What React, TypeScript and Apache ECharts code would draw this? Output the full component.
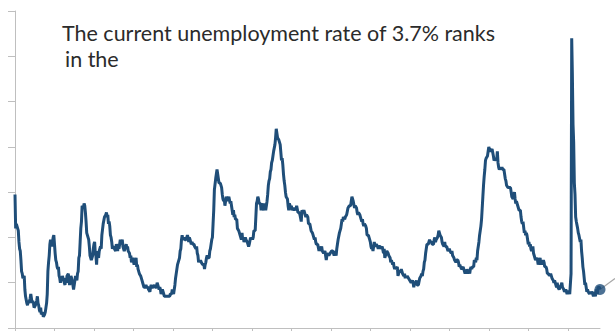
import React, { useEffect, useRef } from "react";
import * as echarts from "echarts";

// US unemployment rate, monthly, Oct 1949 – Nov 2023 (%)
const rates1949 = [7.9, 6.4, 6.6];
const rates1950s = [
  6.5, 6.4, 6.3, 5.8, 5.5, 5.4, 5.0, 4.5, 4.4, 4.2, 4.2, 4.3,
  3.7, 3.4, 3.4, 3.1, 3.0, 3.2, 3.1, 3.1, 3.3, 3.5, 3.5, 3.1,
  3.2, 3.1, 2.9, 2.9, 3.0, 3.0, 3.2, 3.4, 3.1, 3.0, 2.8, 2.7,
  2.9, 2.6, 2.6, 2.7, 2.5, 2.5, 2.6, 2.7, 2.9, 3.1, 3.5, 4.5,
  4.9, 5.2, 5.7, 5.9, 5.9, 5.6, 5.8, 6.0, 6.1, 5.7, 5.3, 5.0,
  4.9, 4.7, 4.6, 4.7, 4.3, 4.2, 4.0, 4.2, 4.1, 4.3, 4.2, 4.2,
  4.0, 3.9, 4.2, 4.0, 4.3, 4.3, 4.4, 4.1, 3.9, 3.9, 4.3, 4.2,
  4.2, 3.9, 3.7, 3.9, 4.1, 4.3, 4.2, 4.1, 4.4, 4.5, 5.1, 5.2,
  5.8, 6.4, 6.7, 7.4, 7.4, 7.3, 7.5, 7.4, 7.1, 6.7, 6.2, 6.2,
  6.0, 5.9, 5.6, 5.2, 5.1, 5.0, 5.1, 5.2, 5.5, 5.7, 5.8, 5.3,
];
const rates1960s = [
  5.2, 4.8, 5.4, 5.2, 5.1, 5.4, 5.5, 5.6, 5.5, 6.1, 6.1, 6.6,
  6.6, 6.9, 6.9, 7.0, 7.1, 6.9, 7.0, 6.6, 6.7, 6.5, 6.1, 6.0,
  5.8, 5.5, 5.6, 5.6, 5.5, 5.5, 5.4, 5.7, 5.6, 5.4, 5.7, 5.5,
  5.7, 5.9, 5.7, 5.7, 5.9, 5.6, 5.6, 5.4, 5.5, 5.5, 5.7, 5.5,
  5.6, 5.4, 5.4, 5.3, 5.1, 5.2, 4.9, 5.0, 5.1, 5.1, 4.8, 5.0,
  4.9, 5.1, 4.7, 4.8, 4.6, 4.6, 4.4, 4.4, 4.3, 4.2, 4.1, 4.0,
  4.0, 3.8, 3.8, 3.8, 3.9, 3.8, 3.8, 3.8, 3.7, 3.7, 3.6, 3.8,
  3.9, 3.8, 3.8, 3.8, 3.8, 3.9, 3.8, 3.8, 3.8, 4.0, 3.9, 3.8,
  3.7, 3.8, 3.7, 3.5, 3.5, 3.7, 3.7, 3.5, 3.4, 3.4, 3.4, 3.4,
  3.4, 3.4, 3.4, 3.4, 3.4, 3.5, 3.5, 3.5, 3.7, 3.7, 3.5, 3.5,
];
const rates1970s = [
  3.9, 4.2, 4.4, 4.6, 4.8, 4.9, 5.0, 5.1, 5.4, 5.5, 5.9, 6.1,
  5.9, 5.9, 6.0, 5.9, 5.9, 5.9, 6.0, 6.1, 6.0, 5.8, 6.0, 6.0,
  5.8, 5.7, 5.8, 5.7, 5.7, 5.7, 5.6, 5.6, 5.5, 5.6, 5.3, 5.2,
  4.9, 5.0, 4.9, 5.0, 4.9, 4.9, 4.8, 4.8, 4.8, 4.6, 4.8, 4.9,
  5.1, 5.2, 5.1, 5.1, 5.1, 5.4, 5.5, 5.5, 5.9, 6.0, 6.6, 7.2,
  8.1, 8.1, 8.6, 8.8, 9.0, 8.8, 8.6, 8.4, 8.4, 8.4, 8.3, 8.2,
  7.9, 7.7, 7.6, 7.7, 7.4, 7.6, 7.8, 7.8, 7.6, 7.7, 7.8, 7.8,
  7.5, 7.6, 7.4, 7.2, 7.0, 7.2, 6.9, 7.0, 6.8, 6.8, 6.8, 6.4,
  6.4, 6.3, 6.3, 6.1, 6.0, 5.9, 6.2, 5.9, 6.0, 5.8, 5.9, 6.0,
  5.9, 5.9, 5.8, 5.8, 5.6, 5.7, 5.7, 6.0, 5.9, 6.0, 5.9, 6.0,
];
const rates1980s = [
  6.3, 6.3, 6.3, 6.9, 7.5, 7.6, 7.8, 7.7, 7.5, 7.5, 7.5, 7.2,
  7.5, 7.4, 7.4, 7.2, 7.5, 7.5, 7.2, 7.4, 7.6, 7.9, 8.3, 8.5,
  8.6, 8.9, 9.0, 9.3, 9.4, 9.6, 9.8, 9.8, 10.1, 10.4, 10.8, 10.8,
  10.4, 10.4, 10.3, 10.2, 10.1, 10.1, 9.4, 9.5, 9.2, 8.8, 8.5, 8.3,
  8.0, 7.8, 7.8, 7.7, 7.4, 7.2, 7.5, 7.5, 7.3, 7.4, 7.2, 7.3,
  7.3, 7.2, 7.2, 7.3, 7.2, 7.4, 7.4, 7.1, 7.1, 7.1, 7.0, 7.0,
  6.7, 7.2, 7.2, 7.1, 7.2, 7.2, 7.0, 6.9, 7.0, 7.0, 6.9, 6.6,
  6.6, 6.6, 6.6, 6.3, 6.3, 6.2, 6.1, 6.0, 5.9, 6.0, 5.8, 5.7,
  5.7, 5.7, 5.7, 5.4, 5.6, 5.4, 5.4, 5.6, 5.4, 5.4, 5.3, 5.3,
  5.4, 5.2, 5.0, 5.2, 5.2, 5.3, 5.2, 5.2, 5.3, 5.3, 5.4, 5.4,
];
const rates1990s = [
  5.4, 5.3, 5.2, 5.4, 5.4, 5.2, 5.5, 5.7, 5.9, 5.9, 6.2, 6.3,
  6.4, 6.6, 6.8, 6.7, 6.9, 6.9, 6.8, 6.9, 6.9, 7.0, 7.0, 7.3,
  7.3, 7.4, 7.4, 7.4, 7.6, 7.8, 7.7, 7.6, 7.6, 7.3, 7.4, 7.4,
  7.3, 7.1, 7.0, 7.1, 7.1, 7.0, 6.9, 6.8, 6.7, 6.8, 6.6, 6.5,
  6.6, 6.6, 6.5, 6.4, 6.1, 6.1, 6.1, 6.0, 5.9, 5.8, 5.6, 5.5,
  5.6, 5.4, 5.4, 5.8, 5.6, 5.6, 5.7, 5.7, 5.6, 5.5, 5.6, 5.6,
  5.6, 5.5, 5.5, 5.6, 5.6, 5.3, 5.5, 5.1, 5.2, 5.2, 5.4, 5.4,
  5.3, 5.2, 5.2, 5.1, 4.9, 5.0, 4.9, 4.8, 4.9, 4.7, 4.6, 4.7,
  4.6, 4.6, 4.7, 4.3, 4.4, 4.5, 4.5, 4.5, 4.6, 4.5, 4.4, 4.4,
  4.3, 4.4, 4.2, 4.3, 4.2, 4.3, 4.3, 4.2, 4.2, 4.1, 4.1, 4.0,
];
const rates2000s = [
  4.0, 4.1, 4.0, 3.8, 4.0, 4.0, 4.0, 4.1, 3.9, 3.9, 3.9, 3.9,
  4.2, 4.2, 4.3, 4.4, 4.3, 4.5, 4.6, 4.9, 5.0, 5.3, 5.5, 5.7,
  5.7, 5.7, 5.7, 5.9, 5.8, 5.8, 5.8, 5.7, 5.7, 5.7, 5.9, 6.0,
  5.8, 5.9, 5.9, 6.0, 6.1, 6.3, 6.2, 6.1, 6.1, 6.0, 5.8, 5.7,
  5.7, 5.6, 5.8, 5.6, 5.6, 5.6, 5.5, 5.4, 5.4, 5.5, 5.4, 5.4,
  5.3, 5.4, 5.2, 5.2, 5.1, 5.0, 5.0, 4.9, 5.0, 5.0, 5.0, 4.9,
  4.7, 4.8, 4.7, 4.7, 4.6, 4.6, 4.7, 4.7, 4.5, 4.4, 4.5, 4.4,
  4.6, 4.5, 4.4, 4.5, 4.4, 4.6, 4.7, 4.6, 4.7, 4.7, 4.7, 5.0,
  5.0, 4.9, 5.1, 5.0, 5.4, 5.6, 5.8, 6.1, 6.1, 6.5, 6.8, 7.3,
  7.8, 8.3, 8.7, 9.0, 9.4, 9.5, 9.5, 9.6, 9.8, 10.0, 9.9, 9.9,
];
const rates2010s = [
  9.8, 9.8, 9.9, 9.9, 9.6, 9.4, 9.4, 9.5, 9.5, 9.4, 9.8, 9.3,
  9.1, 9.0, 9.0, 9.1, 9.0, 9.1, 9.0, 9.0, 9.0, 8.8, 8.6, 8.5,
  8.3, 8.3, 8.2, 8.2, 8.2, 8.2, 8.2, 8.0, 7.8, 7.8, 7.7, 7.9,
  8.0, 7.7, 7.5, 7.6, 7.5, 7.5, 7.3, 7.2, 7.2, 7.2, 6.9, 6.7,
  6.6, 6.7, 6.7, 6.2, 6.3, 6.1, 6.2, 6.1, 5.9, 5.7, 5.8, 5.6,
  5.7, 5.5, 5.4, 5.4, 5.6, 5.3, 5.2, 5.1, 5.0, 5.0, 5.1, 5.0,
  4.8, 4.9, 5.0, 5.1, 4.8, 4.9, 4.8, 4.9, 5.0, 4.9, 4.7, 4.7,
  4.7, 4.6, 4.4, 4.4, 4.4, 4.3, 4.3, 4.4, 4.3, 4.2, 4.2, 4.1,
  4.0, 4.1, 4.0, 4.0, 3.8, 4.0, 3.8, 3.8, 3.7, 3.8, 3.8, 3.9,
  4.0, 3.8, 3.8, 3.7, 3.6, 3.6, 3.7, 3.6, 3.5, 3.6, 3.6, 3.6,
];
const rates2020s = [
  3.5, 3.5, 4.4, 14.8, 13.2, 11.0, 10.2, 8.4, 7.9, 6.9, 6.7, 6.7,
  6.4, 6.2, 6.1, 6.1, 5.8, 5.9, 5.4, 5.1, 4.7, 4.5, 4.2, 3.9,
  4.0, 3.8, 3.6, 3.7, 3.6, 3.6, 3.5, 3.6, 3.5, 3.6, 3.6, 3.5,
  3.4, 3.6, 3.5, 3.4, 3.7, 3.6, 3.5, 3.8, 3.8, 3.8, 3.7,
];

const START_YEAR = 1949;
const START_MONTH = 10;
const titleLines = ["The current unemployment rate of 3.7% ranks", "in the"];

const rates = [
  ...rates1949, ...rates1950s, ...rates1960s, ...rates1970s, ...rates1980s,
  ...rates1990s, ...rates2000s, ...rates2010s, ...rates2020s,
];
const months = rates.map((_, i) => {
  const m0 = START_MONTH - 1 + i;
  const y = START_YEAR + Math.floor(m0 / 12);
  const m = (m0 % 12) + 1;
  return `${y}-${m < 10 ? "0" + m : m}`;
});

const LINE_COLOR = "#1F4E79";
const AXIS_COLOR = "#BFBFBF";

export default function App() {
  const ref = useRef<HTMLDivElement>(null);
  useEffect(() => {
    if (!ref.current) return;
    const chart = echarts.init(ref.current, null, { renderer: "svg" });
    const lastIdx = rates.length - 1;
    const fontSize = 21.5;
    const textStyle = {
      fontSize,
      fontFamily: "Lato",
      fill: "#2B2B2B",
      verticalAlign: "bottom",
    };
    chart.setOption({
      animation: false,
      grid: { left: 15, right: 15, top: 11, bottom: 3, containLabel: false },
      xAxis: {
        type: "category",
        data: months,
        boundaryGap: false,
        axisLine: { show: true, lineStyle: { color: AXIS_COLOR, width: 1 } },
        axisTick: { show: true, interval: 59, length: 5, lineStyle: { color: AXIS_COLOR } },
        axisLabel: { show: false },
        splitLine: { show: false },
      },
      yAxis: {
        type: "value",
        min: 2,
        max: 16,
        interval: 2,
        axisLine: { show: true, lineStyle: { color: AXIS_COLOR, width: 1 } },
        axisTick: { show: true, length: 7, lineStyle: { color: AXIS_COLOR } },
        axisLabel: { show: false },
        splitLine: { show: false },
      },
      series: [
        {
          type: "line",
          data: rates,
          showSymbol: false,
          symbol: "none",
          lineStyle: { color: LINE_COLOR, width: 3 },
          z: 2,
        },
        {
          type: "scatter",
          data: [[months[lastIdx], rates[lastIdx]]],
          symbol: "circle",
          symbolSize: 11,
          itemStyle: { color: LINE_COLOR },
          z: 3,
        },
      ],
      graphic: [
        {
          type: "text",
          x: 62,
          y: 44,
          style: { ...textStyle, text: titleLines[0] },
        },
        {
          type: "text",
          x: 65,
          y: 70,
          style: { ...textStyle, text: titleLines[1] },
        },
      ],
    });
    const p = chart.convertToPixel({ gridIndex: 0 }, [lastIdx, rates[lastIdx]]) as number[];
    if (p) {
      chart.setOption({
        graphic: [
          {},
          {},
          {
            type: "line",
            shape: { x1: p[0], y1: p[1], x2: p[0] + 15, y2: p[1] - 11 },
            style: { stroke: "#A6A6A6", lineWidth: 1.2 },
            z: 1,
          },
        ],
      });
    }
    return () => chart.dispose();
  }, []);
  return (
    <div
      ref={ref}
      style={{ position: "fixed", left: 0, top: 0, width: 615, height: 331, background: "#fff" }}
    />
  );
}
